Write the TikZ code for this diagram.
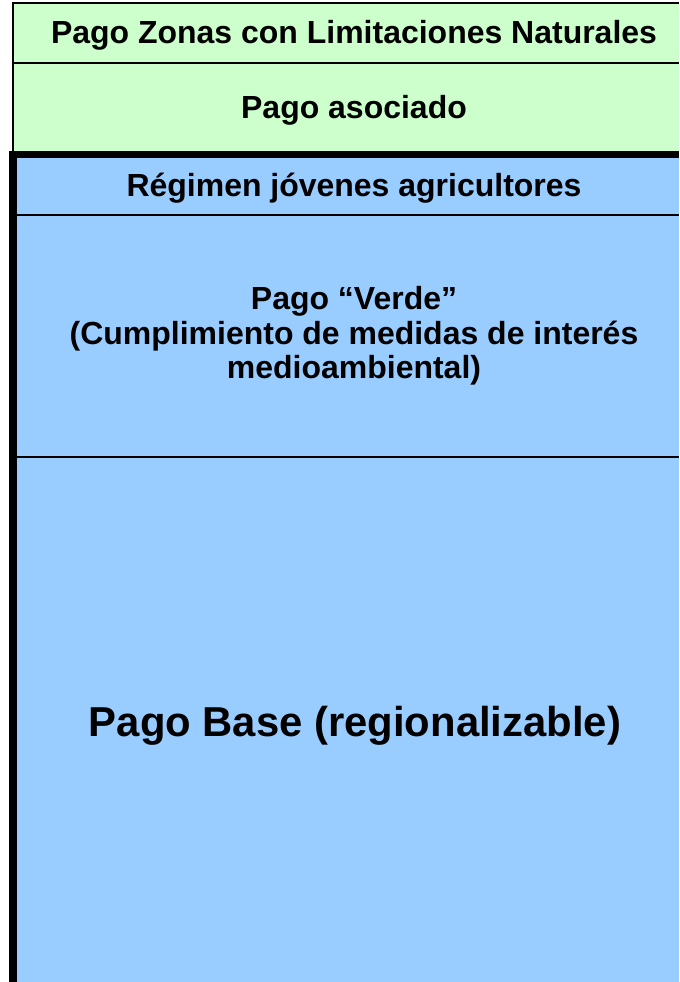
\documentclass[tikz,border=0pt]{standalone}
\usepackage{fontspec}
\setmainfont{Liberation Sans}
\usepackage{tikz}
\definecolor{zonagreen}{HTML}{CCFFCC}
\definecolor{pagoblue}{HTML}{99CCFF}

\begin{document}
\begin{tikzpicture}[x=0.02cm,y=-0.02cm]
		\useasboundingbox (0,0) rectangle (679,982);
		\fill[zonagreen] (13,3) rectangle (679,151);
		\fill[pagoblue] (17,157) rectangle (679,982);

		\draw[line width=0.6pt] (679,3) -- (13,3) -- (13,151);
		\draw[line width=0.9pt] (13,63) -- (679,63);
		\draw[line width=1pt] (17,215) -- (679,215);
		\draw[line width=1pt] (17,457) -- (679,457);
		\draw[line width=4pt] (13,982) -- (13,154.5) -- (679,154.5);

		\node[font=\bfseries\fontsize{18.2}{20}\selectfont] (zonas) at (354,35) {Pago Zonas con Limitaciones Naturales};
		\node[font=\bfseries\fontsize{18.2}{20}\selectfont] (asociado) at (354,110) {Pago asociado};
		\node[font=\bfseries\fontsize{18.2}{20}\selectfont] (jovenes) at (354,188) {Régimen jóvenes agricultores};
		\node[font=\bfseries\fontsize{18.2}{19.6}\selectfont,align=center] (verde) at (354,336) {Pago “Verde”\\(Cumplimiento de medidas de interés\\medioambiental)};
		\node[font=\bfseries\fontsize{23.8}{26}\selectfont] (base) at (355,726) {Pago Base (regionalizable)};
	\end{tikzpicture}
\end{document}
